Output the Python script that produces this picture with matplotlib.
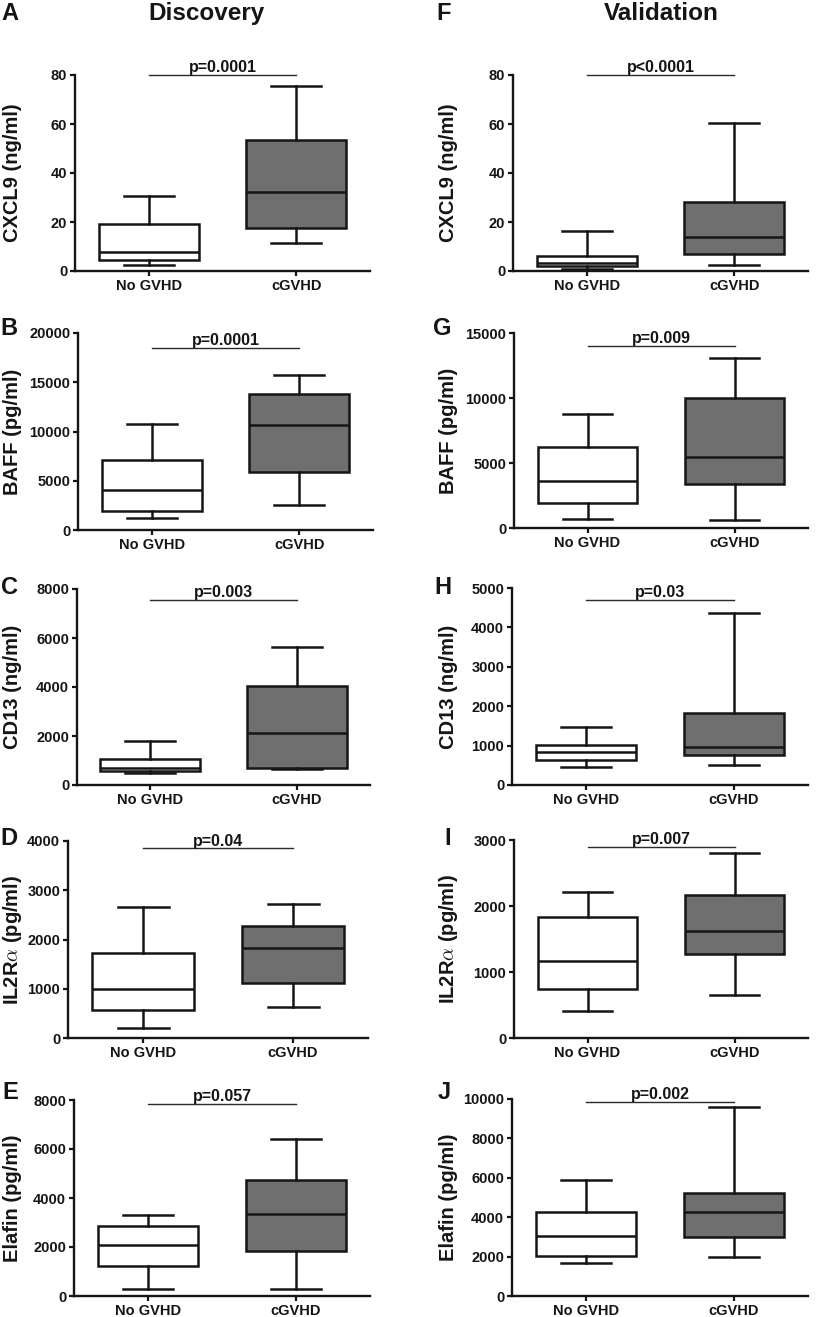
import matplotlib
matplotlib.use('Agg')
import matplotlib.pyplot as plt

plt.rcParams['font.family'] = ['Liberation Sans', 'DejaVu Sans']
plt.rcParams['font.weight'] = 'bold'
plt.rcParams['mathtext.fontset'] = 'cm'

groups = ['No GVHD', 'cGVHD']

# five-number summaries per group: [whisker low, Q1, median, Q3, whisker high]
cxcl9_disc = [[2.6, 4.5, 7.9, 19.3, 30.6], [11.4, 17.6, 32.1, 53.5, 75.5]]
baff_disc = [[1220, 1970, 4030, 7120, 10750], [2540, 5930, 10680, 13760, 15700]]
cd13_disc = [[480, 590, 700, 1060, 1800], [640, 710, 2140, 4050, 5650]]
il2ra_disc = [[210, 570, 990, 1720, 2670], [620, 1120, 1825, 2270, 2725]]
elafin_disc = [[300, 1220, 2100, 2870, 3300], [300, 1820, 3330, 4720, 6420]]

cxcl9_val = [[0.8, 1.9, 3.3, 6.1, 16.3], [2.6, 7.1, 13.9, 28.0, 60.5]]
baff_val = [[720, 1920, 3630, 6240, 8770], [640, 3400, 5490, 10020, 13060]]
cd13_val = [[465, 633, 845, 1014, 1470], [507, 752, 954, 1816, 4375]]
il2ra_val = [[415, 744, 1174, 1826, 2216], [653, 1275, 1614, 2160, 2803]]
elafin_val = [[1660, 2030, 3030, 4250, 5890], [2000, 2980, 4250, 5245, 9577]]

ylabels = ['CXCL9 (ng/ml)', 'BAFF (pg/ml)', 'CD13 (ng/ml)',
           r'IL2R$\alpha$ (pg/ml)', 'Elafin (pg/ml)']
ymax_disc = [80, 20000, 8000, 4000, 8000]
ystep_disc = [20, 5000, 2000, 1000, 2000]
ymax_val = [80, 15000, 5000, 3000, 10000]
ystep_val = [20, 5000, 1000, 1000, 2000]

p_disc = ['p=0.0001', 'p=0.0001', 'p=0.003', 'p=0.04', 'p=0.057']
p_val = ['p<0.0001', 'p=0.009', 'p=0.03', 'p=0.007', 'p=0.002']
pline_disc = [80, 18500, 7550, 3850, 7850]
pline_val = [80, 14000, 4700, 2900, 9850]

letters_disc = ['A', 'B', 'C', 'D', 'E']
letters_val = ['F', 'G', 'H', 'I', 'J']

W, H = 817, 1317
fig = plt.figure(figsize=(W / 100, H / 100), dpi=100)

# pixel boxes of each panel: (left, right, top, bottom)
boxes_disc = [(75, 370, 75, 271), (78, 373, 333, 530), (77, 370, 589, 785),
              (68, 368, 841, 1038), (74, 370, 1100, 1296)]
boxes_val = [(513, 808, 75, 271), (514, 808, 333, 528), (512, 808, 588, 785),
             (514, 808, 840, 1038), (512, 808, 1099, 1296)]
letter_base = [20.5, 335, 594, 845, 1099]

INK = '#151515'
GREY = '#6f6f6f'


def draw_panel(box, data, ylab, ymax, ystep, ptxt, py, letter, base, letter_x, label_x):
    l, r, t, b = box
    ax = fig.add_axes([l / W, 1 - b / H, (r - l) / W, (b - t) / H])
    stats = [dict(whislo=s[0], q1=s[1], med=s[2], q3=s[3], whishi=s[4], label=g)
             for s, g in zip(data, groups)]
    lp = dict(color=INK, linewidth=1.8)
    bp = ax.bxp(stats, positions=[0, 1], widths=0.68, showfliers=False,
                patch_artist=True,
                boxprops=dict(edgecolor=INK, linewidth=1.8),
                whiskerprops=lp, capprops=lp, medianprops=lp)
    bp['boxes'][0].set_facecolor('white')
    bp['boxes'][1].set_facecolor(GREY)

    ax.set_xlim(-0.5, 1.5)
    ax.set_ylim(0, ymax)
    ax.set_yticks(range(0, ymax + 1, ystep))
    ax.spines['top'].set_visible(False)
    ax.spines['right'].set_visible(False)
    for s in ['left', 'bottom']:
        ax.spines[s].set_linewidth(1.7)
        ax.spines[s].set_color(INK)
    ax.tick_params(direction='out', length=3.6, width=1.6, colors=INK,
                   labelsize=10.5, pad=2)

    # significance bar
    ax.plot([0, 1], [py, py], color='#2a2a2a', linewidth=1.0, clip_on=False)
    ax.annotate(ptxt, xy=(0.5, py), xytext=(0, 2), textcoords='offset points',
                ha='center', va='baseline', fontsize=11.5, color=INK)

    fig.text(label_x / W, 1 - (t + b) / 2 / H, ylab, rotation=90,
             ha='center', va='center', fontsize=14.5, color=INK)
    fig.text(letter_x / W, 1 - base / H, letter, ha='right', va='baseline',
             fontsize=17, color=INK)
    return ax


for i in range(5):
    draw_panel(boxes_disc[i], [cxcl9_disc, baff_disc, cd13_disc, il2ra_disc, elafin_disc][i],
               ylabels[i], ymax_disc[i], ystep_disc[i], p_disc[i], pline_disc[i],
               letters_disc[i], letter_base[i], 18, 12.5)
    draw_panel(boxes_val[i], [cxcl9_val, baff_val, cd13_val, il2ra_val, elafin_val][i],
               ylabels[i], ymax_val[i], ystep_val[i], p_val[i], pline_val[i],
               letters_val[i], letter_base[i], 451, 449)

fig.text(206 / W, 1 - 20 / H, 'Discovery', ha='center', va='baseline',
         fontsize=17.5, color=INK)
fig.text(661 / W, 1 - 20 / H, 'Validation', ha='center', va='baseline',
         fontsize=17.5, color=INK)

fig.savefig('out.png', dpi=100)
